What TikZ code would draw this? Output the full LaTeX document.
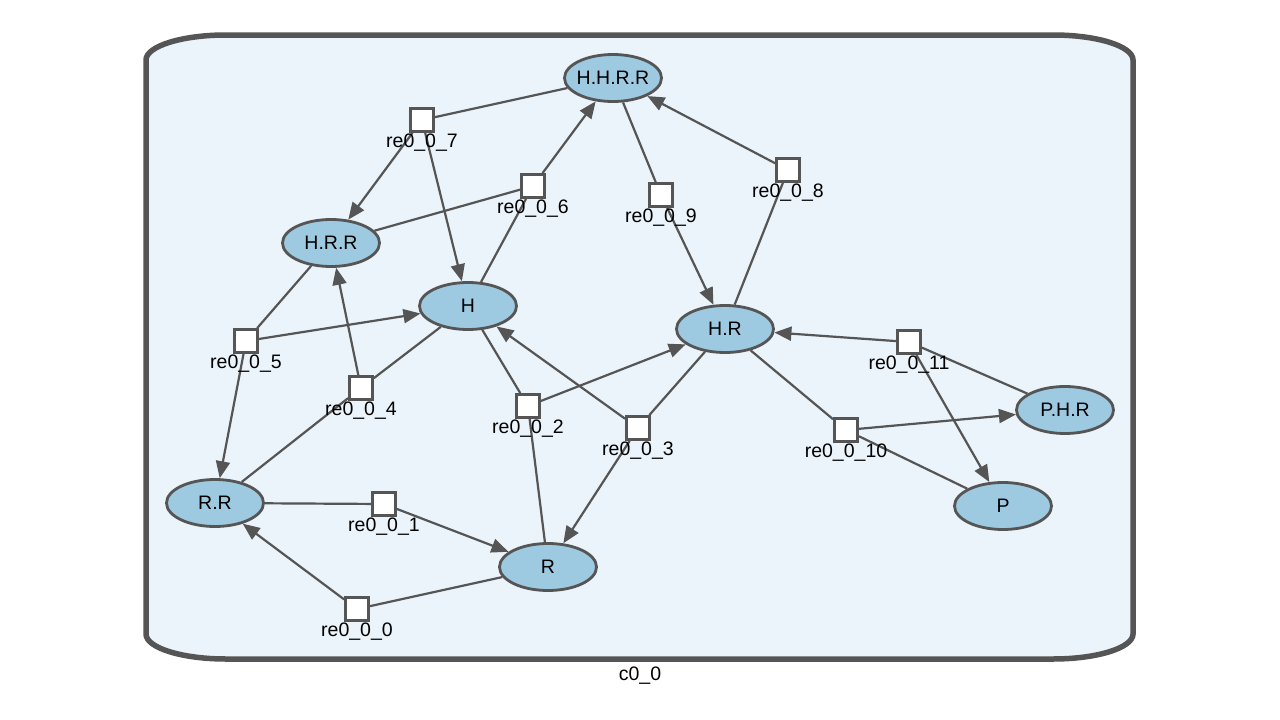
\documentclass[tikz,border=0pt]{standalone}
\usepackage{fontspec}
\setmainfont{Liberation Sans}
\usetikzlibrary{arrows.meta,shapes.geometric}
\definecolor{edgegray}{HTML}{555555}
\definecolor{speciesblue}{HTML}{9ECAE1}
\definecolor{compfill}{HTML}{EBF4FA}

\begin{document}
\begin{tikzpicture}[x=1pt,y=-1pt,
  species/.style={ellipse, draw=edgegray, fill=speciesblue, line width=2.8pt,
    minimum width=97pt, minimum height=47pt, inner sep=-12pt,
    font=\fontsize{19.5}{21}\selectfont},
  reaction/.style={rectangle, draw=edgegray, fill=white, line width=2.8pt,
    minimum size=23pt, inner sep=0pt},
  rlabel/.style={inner sep=0pt, font=\fontsize{19.5}{21}\selectfont},
  link/.style={draw=edgegray, line width=2.2pt},
  prod/.style={link, -{Triangle[length=17pt,width=14pt]}},
]
\useasboundingbox (0,0) rectangle (1280,720);

% compartment c0_0
\path[draw=edgegray, fill=compfill, line width=5.5pt]
  (146,60) .. controls (146,46.2) and (181.8,35) .. (226,35)
  -- (1053,35) .. controls (1097.2,35) and (1133,46.2) .. (1133,60)
  -- (1133,634) .. controls (1133,647.8) and (1097.2,659) .. (1053,659)
  -- (226,659) .. controls (181.8,659) and (146,647.8) .. (146,634) -- cycle;
\node[rlabel] (c00) at (640,676) {c0\_0};

% species
\node[species] (HHRR) at (613,78)  {H.H.R.R};
\node[species] (HRR)  at (331,243) {H.R.R};
\node[species] (H)    at (468,306) {H};
\node[species] (HR)   at (725,329) {H.R};
\node[species] (PHR)  at (1065,410) {P.H.R};
\node[species] (P)    at (1003,506) {P};
\node[species] (RR)   at (215,503) {R.R};
\node[species] (R)    at (548,567) {R};

% reactions
\node[reaction] (r7)  at (422,120) {};
\node[reaction] (r6)  at (533,186) {};
\node[reaction] (r9)  at (661,195) {};
\node[reaction] (r8)  at (788,170) {};
\node[reaction] (r5)  at (246,341) {};
\node[reaction] (r4)  at (361,388) {};
\node[reaction] (r2)  at (528,406) {};
\node[reaction] (r3)  at (638,428) {};
\node[reaction] (r11) at (909,342) {};
\node[reaction] (r10) at (846,430) {};
\node[reaction] (r1)  at (384,504) {};
\node[reaction] (r0)  at (357,609) {};

% reaction edges
\draw[link] (HHRR) -- (r7);
\draw[prod] (r7) -- (HRR);
\draw[prod] (r7) -- (H);

\draw[link] (HRR) -- (r6);
\draw[link] (H) -- (r6);
\draw[prod] (r6) -- (HHRR);

\draw[link] (HHRR) -- (r9);
\draw[prod] (r9) -- (HR);

\draw[link] (HR) -- (r8);
\draw[prod] (r8) -- (HHRR);

\draw[link] (HRR) -- (r5);
\draw[prod] (r5) -- (H);
\draw[prod] (r5) -- (RR);

\draw[link] (H) -- (r4);
\draw[link] (RR) -- (r4);
\draw[prod] (r4) -- (HRR);

\draw[link] (H) -- (r2);
\draw[link] (R) -- (r2);
\draw[prod] (r2) -- (HR);

\draw[link] (HR) -- (r3);
\draw[prod] (r3) -- (H);
\draw[prod] (r3) -- (R);

\draw[link] (PHR) -- (r11);
\draw[prod] (r11) -- (HR);
\draw[prod] (r11) -- (P);

\draw[link] (HR) -- (r10);
\draw[link] (P) -- (r10);
\draw[prod] (r10) -- (PHR);

\draw[link] (RR) -- (r1);
\draw[prod] (r1) -- (R);

\draw[link] (R) -- (r0);
\draw[prod] (r0) -- (RR);

% reaction labels
\node[rlabel] (l7)  at (422,143) {re0\_0\_7};
\node[rlabel] (l6)  at (533,209) {re0\_0\_6};
\node[rlabel] (l9)  at (661,218) {re0\_0\_9};
\node[rlabel] (l8)  at (788,193) {re0\_0\_8};
\node[rlabel] (l5)  at (246,364) {re0\_0\_5};
\node[rlabel] (l4)  at (361,411) {re0\_0\_4};
\node[rlabel] (l2)  at (528,429) {re0\_0\_2};
\node[rlabel] (l3)  at (638,451) {re0\_0\_3};
\node[rlabel] (l11) at (909,365) {re0\_0\_11};
\node[rlabel] (l10) at (846,453) {re0\_0\_10};
\node[rlabel] (l1)  at (384,527) {re0\_0\_1};
\node[rlabel] (l0)  at (357,632) {re0\_0\_0};
\end{tikzpicture}
\end{document}
